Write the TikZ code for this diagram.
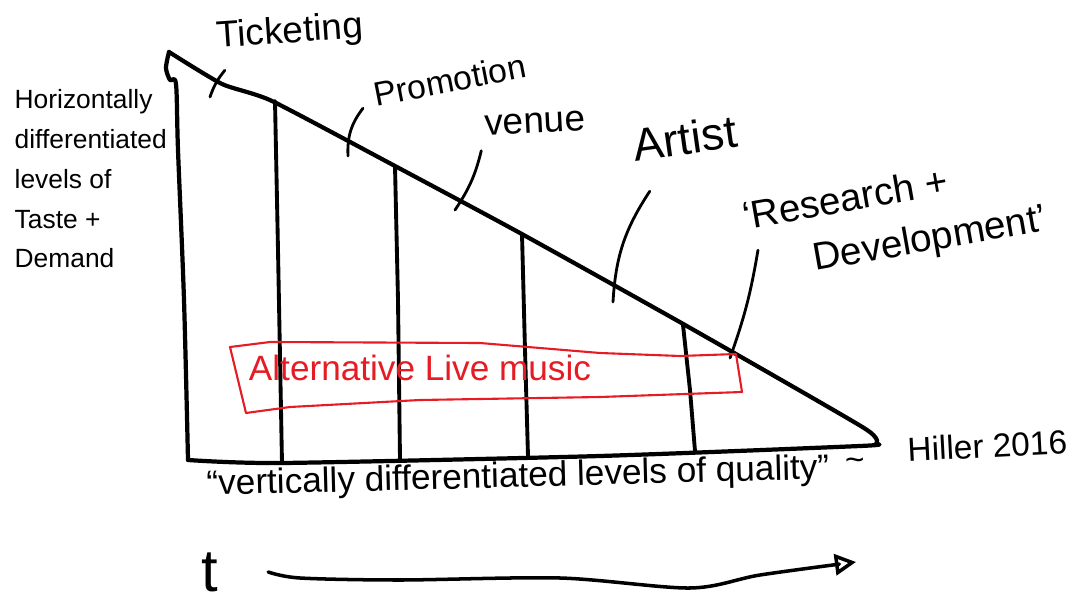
\documentclass[tikz,border=0pt]{standalone}
\usepackage{fontspec}
\setmainfont{Liberation Sans}
\usetikzlibrary{arrows.meta,positioning}
\definecolor{penred}{RGB}{230,28,36}

\begin{document}
\begin{tikzpicture}[x=0.01cm, y=-0.01cm, line cap=round, line join=round,
    outline/.style={line width=1.2pt},
    divider/.style={line width=1.1pt},
    leader/.style={line width=0.8pt},
    lbl/.style={inner sep=1pt, font=\fontsize{10.5}{12}\selectfont},
    redbox/.style={draw=penred, line width=0.6pt}]

    \useasboundingbox (0,0) rectangle (1075,600);

    % triangle outline
    \draw[outline] plot[smooth, tension=0.35] coordinates {(169,52) (222,84) (272,101) (395,166) (520,233) (685,325) (864,428) (876,444)};
    \draw[outline] plot[smooth, tension=0.4] coordinates {(876,444) (860,446) (600,456) (282,463) (188,460)};
    \draw[outline] plot[smooth, tension=0.5] coordinates {(188,460) (184,300) (178,150) (176,84) (170,80) (166,68) (169,52)};

    % dividers
    \draw[divider] (275,101) -- (278,250) -- (282,463);
    \draw[divider] (395,166) -- (398,300) -- (400,459);
    \draw[divider] (522,234) -- (525,350) -- (528,456);
    \draw[divider] (683,325) -- (690,390) -- (695,451);

    % labels on the slope
    \node[lbl, rotate=4] (tick) at (290,33) {Ticketing};
    \node[lbl, rotate=11, font=\fontsize{9.6}{12}\selectfont] (promo) at (450,80) {Promotion};
    \node[lbl, rotate=3] (venue) at (535,123) {venue};
    \node[lbl, rotate=8, font=\fontsize{13}{15}\selectfont] (artist) at (685,138) {Artist};
    \node[lbl, rotate=10, align=left, font=\fontsize{11}{15}\selectfont] (rnd) at (895,220) {`Research +\\\hspace*{1.6em}Development'};

    \coordinate (tickpt) at (210,97);
    \coordinate (promopt) at (348,156);
    \coordinate (venuept) at (455,210);
    \coordinate (artistpt) at (613,302);
    \coordinate (rndpt) at (730,358);

    % leaders
    \draw[leader] ([shift={(3pt,-3pt)}]tick.south west) to[bend right=10] (tickpt);
    \draw[leader] ([shift={(-3pt,1pt)}]promo.south west) to[bend right=20] (promopt);
    \draw[leader] ([shift={(0pt,-3pt)}]venue.south west) to[bend left=10] (venuept);
    \draw[leader] ([shift={(5pt,-7pt)}]artist.south west) to[bend right=15] (artistpt);
    \draw[leader] ([shift={(4pt,-1pt)}]rnd.west) to[bend left=5] (rndpt);

    % left axis text
    \node[inner sep=0pt, anchor=north west, align=left, font=\fontsize{7.5}{11.3}\selectfont] (taste) at (14,89) {Horizontally\\differentiated\\levels of\\Taste +\\Demand};

    % red box
    \draw[redbox] (230,347) -- (270,342) -- (480,343) -- (600,353) -- (680,356) -- (736,354) -- (742,392) -- (600,397) -- (420,400) -- (290,407) -- (246,413) -- cycle;
    \node[lbl, text=penred, font=\fontsize{10}{12}\selectfont] (alt) at (420,368) {Alternative Live music};

    % bottom axis text
    \node[lbl, rotate=1.5, font=\fontsize{10}{12}\selectfont] (quality) at (518,478) {``vertically differentiated levels of quality''};
    \node[lbl, rotate=3, font=\fontsize{9.5}{12}\selectfont] (hiller) at (956,450) {\raisebox{-0.35ex}{\textasciitilde}\hspace{1.3em}Hiller 2016};

    % time arrow
    \node[inner sep=1pt, font=\fontsize{17}{20}\selectfont] (t) at (210,572) {t};
    \coordinate (tend) at (856,562);
    \draw[leader, line width=1pt, -{Triangle[open, length=6pt, width=6pt]}] plot[smooth, tension=0.5] coordinates {([xshift=13pt]t.east) (300,578) (400,580) (560,578) (690,588) (760,575) (tend)};
\end{tikzpicture}
\end{document}
